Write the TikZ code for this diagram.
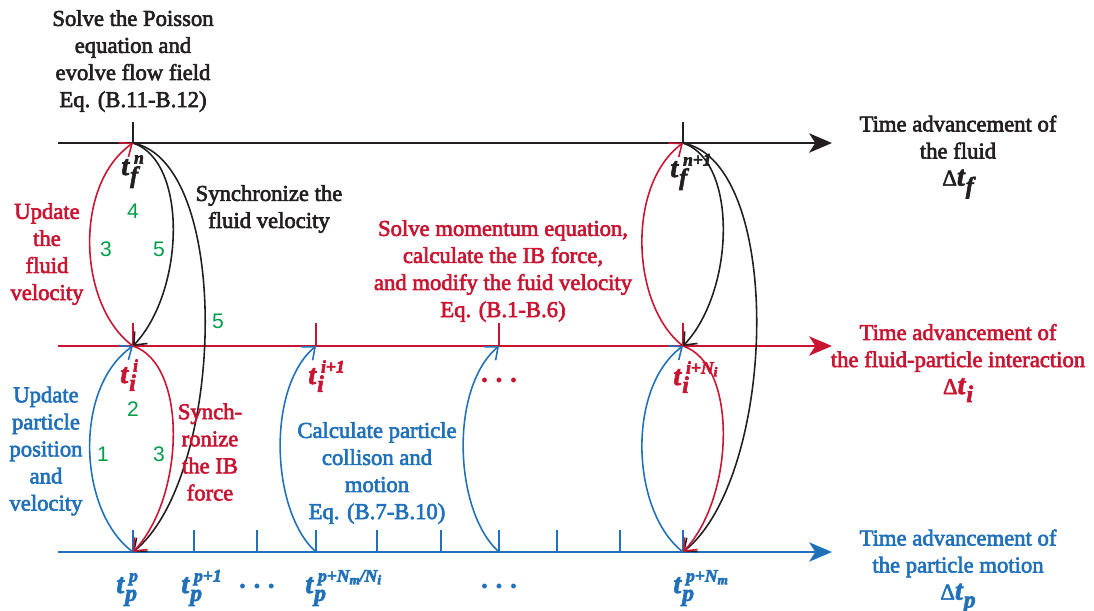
\documentclass[tikz,border=0pt]{standalone}
\usepackage{fontspec}
\setmainfont{Liberation Serif}
\newfontfamily\numfont{Liberation Sans}
\usetikzlibrary{arrows.meta}

\definecolor{fcol}{RGB}{35,31,32}
\definecolor{icol}{RGB}{200,22,50}
\definecolor{pcol}{RGB}{33,113,186}
\definecolor{ncol}{RGB}{0,158,73}

\newcommand\heavy{\special{pdf:literal direct 2 Tr 0.35 w}}
\newcommand\lowsub[1]{\raisebox{-1.5pt}{\fontsize{7.5}{7.5}\selectfont #1}}
\newcommand\tlab[2]{{\fontsize{16}{16}\selectfont\bfseries\itshape t}%
  \kern0.6pt\rlap{\raisebox{-4.5pt}{\fontsize{13.5}{13.5}\selectfont\bfseries\itshape #1}}%
  \kern2.2pt\raisebox{6.5pt}{\fontsize{10}{10}\selectfont\bfseries\itshape #2}}
\newcommand\dtlab[1]{Δ{\fontsize{16}{16}\selectfont\bfseries\itshape t}%
  \kern0.6pt\raisebox{-4.5pt}{\fontsize{13.5}{13.5}\selectfont\bfseries\itshape #1}}

\begin{document}
\begin{tikzpicture}[x=0.02cm, y=-0.02cm,
  txt/.style={align=center, font=\fontsize{12.9}{15.4}\selectfont\heavy, inner sep=0pt},
  num/.style={text=ncol, font=\numfont\fontsize{12}{12}\selectfont, inner sep=0pt},
  lab/.style={anchor=base west, inner sep=0pt, font=\heavy},
  tick/.style={line width=1.1pt},
  axis/.style={line width=1.2pt, -{Stealth[length=13pt,width=11pt,inset=3.5pt]}},
  loop/.style={line width=0.9pt, -{Straight Barb[length=6pt,width=10pt]}}]

  \useasboundingbox (0,0) rectangle (1094,611);

  \coordinate (fa) at (58,143);  \coordinate (fb) at (832,143);
  \coordinate (ia) at (58,346);  \coordinate (ib) at (832,346);
  \coordinate (pa) at (58,552);  \coordinate (pb) at (832,552);

  \coordinate (f1) at (133,143); \coordinate (f2) at (683,143);
  \coordinate (i1) at (133,346); \coordinate (i2) at (316,346);
  \coordinate (i3) at (499,346); \coordinate (i4) at (683,346);
  \coordinate (p1) at (133,552); \coordinate (p2) at (316,552);
  \coordinate (p3) at (499,552); \coordinate (p4) at (683,552);

  \draw[axis, fcol] (fa) -- (fb);
  \draw[axis, icol] (ia) -- (ib);
  \draw[axis, pcol] (pa) -- (pb);

  \draw[tick, fcol] (f1) -- ++(0,-21) (f2) -- ++(0,-21);
  \draw[tick, icol] (i1) -- ++(0,-23) (i2) -- ++(0,-23) (i3) -- ++(0,-23) (i4) -- ++(0,-23);
  \foreach \x in {133,194,257,316,377,441,499,557,620,683}
    \draw[tick, pcol] (\x,552) -- (\x,530);

  \draw[loop, icol] (i1) .. controls +(-55,-40) and +(-60,42) .. (f1);
  \draw[loop, icol] (i4) .. controls +(-52,-40) and +(-57,42) .. (f2);
  \draw[loop, fcol] (f1) .. controls +(55,18) and +(52,-55) .. (i1);
  \draw[loop, fcol] (f2) .. controls +(55,18) and +(52,-55) .. (i4);
  \draw[loop, fcol] (f1) .. controls +(100,20) and +(92,-75) .. (p1);
  \draw[loop, fcol] (f2) .. controls +(102,20) and +(94,-75) .. (p4);
  \draw[loop, icol] (i1) .. controls +(55,18) and +(52,-55) .. (p1);
  \draw[loop, icol] (i4) .. controls +(55,18) and +(52,-55) .. (p4);
  \draw[loop, pcol] (p1) .. controls +(-55,-40) and +(-60,42) .. (i1);
  \draw[loop, pcol] (p2) .. controls +(-45,-40) and +(-50,42) .. (i2);
  \draw[loop, pcol] (p3) .. controls +(-45,-40) and +(-50,42) .. (i3);
  \draw[loop, pcol] (p4) .. controls +(-52,-40) and +(-57,42) .. (i4);

  \node[txt, text=fcol] (poisson) at (133,61) {Solve the Poisson\\equation and\\evolve flow field\\Eq. (B.11-B.12)};
  \node[txt, text=icol] (updfluid) at (47,254) {Update\\the\\fluid\\velocity};
  \node[txt, text=fcol] (syncfluid) at (269,209) {Synchronize the\\fluid velocity};
  \node[txt, text=icol] (momentum) at (503,271) {Solve momentum equation,\\calculate the IB force,\\and modify the fuid velocity\\Eq. (B.1-B.6)};
  \node[txt, text=pcol] (updpart) at (46,451) {Update\\particle\\position\\and\\velocity};
  \node[txt, text=icol] (syncib) at (210,452) {Synch-\\ronize\\the IB\\force};
  \node[txt, text=pcol] (collision) at (377,473) {Calculate particle\\collison and\\motion\\Eq. (B.7-B.10)};
  \node[txt, text=fcol] (advf) at (958,157) {Time advancement of\\the fluid\\\dtlab{f}};
  \node[txt, text=icol] (advi) at (958,363) {Time advancement of\\the fluid-particle interaction\\\dtlab{i}};
  \node[txt, text=pcol] (advp) at (958,571) {Time advancement of\\the particle motion\\\dtlab{p}};

  \node[lab, text=fcol] (tfn) at (121,175) {\tlab{f}{n}};
  \node[lab, text=fcol] (tfn1) at (670,177) {\tlab{f}{n+1}};
  \node[lab, text=icol] (tii) at (120,383) {\tlab{i}{i}};
  \node[lab, text=icol] (tii1) at (308,384) {\tlab{i}{i+1}};
  \node[lab, text=icol] (tiiN) at (673,385) {\tlab{i}{i+N\lowsub{i}}};
  \node[lab, text=pcol] (tpp) at (116,593) {\tlab{p}{p}};
  \node[lab, text=pcol] (tpp1) at (181,593) {\tlab{p}{p+1}};
  \node[lab, text=pcol] (tppN) at (305,593) {\tlab{p}{p+N\lowsub{m}/N\lowsub{i}}};
  \node[lab, text=pcol] (tppNm) at (673,593) {\tlab{p}{p+N\lowsub{m}}};

  \node[text=icol, inner sep=0pt, font=\fontsize{17}{17}\selectfont\bfseries] (idots) at (499,380) {.\hspace{4pt}.\hspace{4pt}.};
  \node[text=pcol, inner sep=0pt, font=\fontsize{17}{17}\selectfont\bfseries] (pdotsa) at (257,586) {.\hspace{4pt}.\hspace{4pt}.};
  \node[text=pcol, inner sep=0pt, font=\fontsize{17}{17}\selectfont\bfseries] (pdotsb) at (499,586) {.\hspace{4pt}.\hspace{4pt}.};

  \node[num] (n4) at (133,211) {4};
  \node[num] (n3a) at (106,249) {3};
  \node[num] (n5a) at (159,249) {5};
  \node[num] (n5b) at (218,321) {5};
  \node[num] (n2) at (133,409) {2};
  \node[num] (n1) at (103,454) {1};
  \node[num] (n3b) at (159,454) {3};
\end{tikzpicture}
\end{document}
